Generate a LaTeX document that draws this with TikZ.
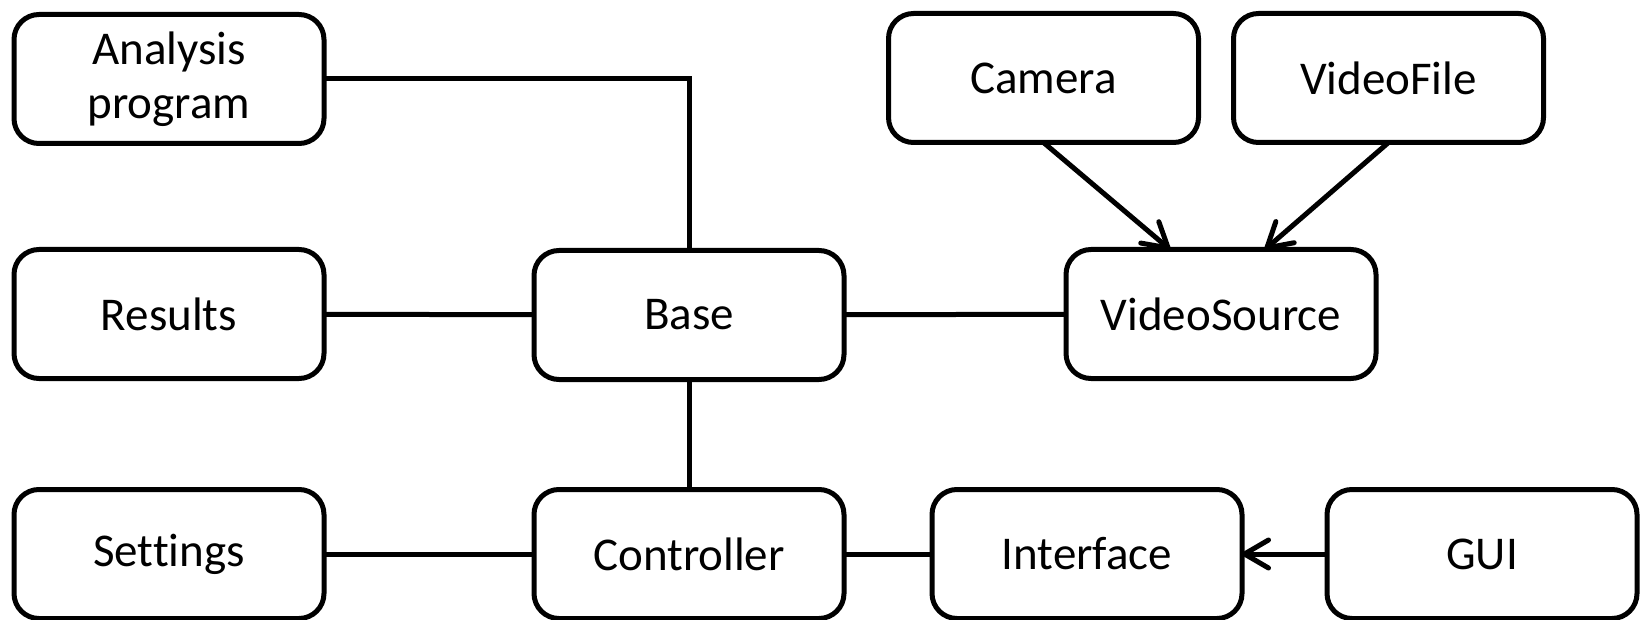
\documentclass[tikz,border=0pt]{standalone}
\usepackage{fontspec}
\setmainfont[Ligatures=NoCommon]{Carlito}
\usetikzlibrary{arrows.meta}
\begin{document}
\begin{tikzpicture}[x=1pt,y=-1pt,
  box/.style={draw=black,line width=5pt,rounded corners=25pt,minimum width=310pt,minimum height=129pt,inner sep=0pt,outer sep=0pt,align=center,font=\fontsize{47}{54}\selectfont},
  conn/.style={draw=black,line width=5pt},
  arr/.style={conn,-{Straight Barb[length=24pt,width=28pt,line cap=round,line join=round]}}]
\useasboundingbox (0,0) rectangle (1640,620);
\node[box] (analysis) at (169,79) {Analysis\\program};
\node[box] (results) at (169,314) {Results};
\node[box] (settings) at (169,554) {Settings};
\node[box] (base) at (689,315) {Base};
\node[box] (controller) at (689,554) {Controller};
\node[box] (camera) at (1043.5,78) {Camera};
\node[box] (videofile) at (1388.5,78) {VideoFile};
\node[box] (videosource) at (1221,314) {VideoSource};
\node[box] (interface) at (1087,554) {Interface};
\node[box] (gui) at (1482,554) {GUI};
\coordinate (vsl) at ([xshift=-51pt]videosource.north);
\coordinate (vsr) at ([xshift=44pt]videosource.north);
\draw[conn] (analysis.east) -| (base.north);
\draw[conn] (results) -- (base);
\draw[conn] (base) -- (videosource);
\draw[conn] (base) -- (controller);
\draw[conn] (settings) -- (controller);
\draw[conn] (controller) -- (interface);
\draw[arr] (gui) -- (interface);
\draw[arr] (camera.south) -- (vsl);
\draw[arr] (videofile.south) -- (vsr);
\end{tikzpicture}
\end{document}
